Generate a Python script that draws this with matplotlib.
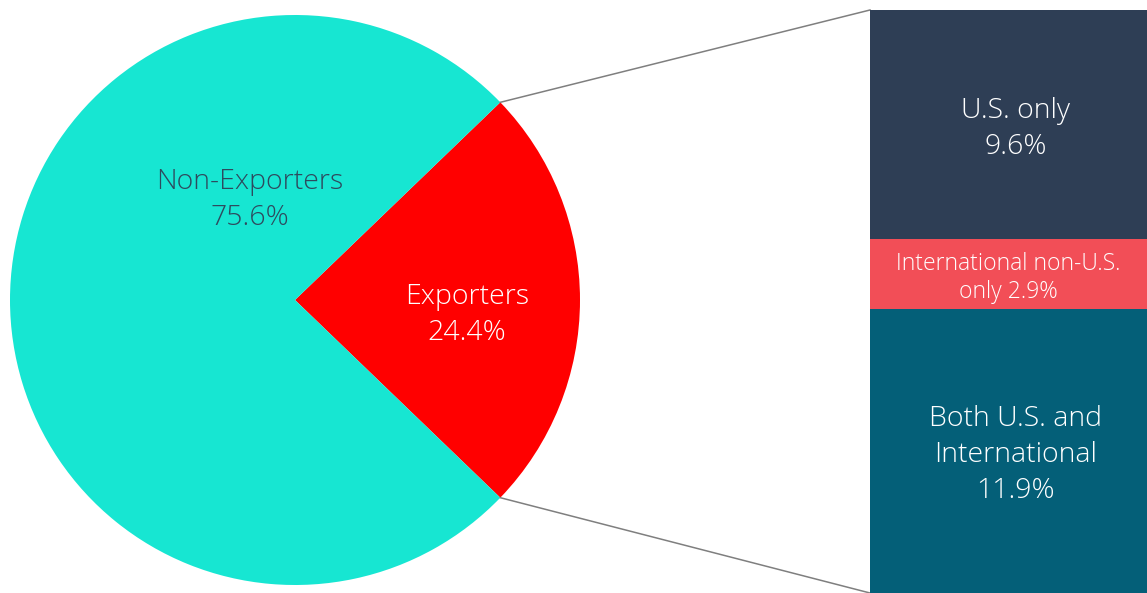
import matplotlib
matplotlib.use("Agg")
import matplotlib.pyplot as plt
from matplotlib.transforms import offset_copy
import numpy as np

# Share of firms by export status
pie_labels = ["Exporters", "Non-Exporters"]
pie_values = [24.4, 75.6]
pie_colors = ["#FF0000", "#17E6D2"]

# Breakdown of exporters, bottom to top
bar_labels = ["Both U.S. and\nInternational\n11.9%", "International non-U.S.\nonly 2.9%", "U.S. only\n9.6%"]
bar_values = [11.9, 2.9, 9.6]
bar_colors = ["#045F78", "#F24E57", "#2E3E55"]

W, H = 1147, 593
fig = plt.figure(figsize=(W / 100, H / 100), dpi=100)
fig.patch.set_facecolor("white")
plt.rcParams["font.family"] = ["Open Sans", "DejaVu Sans"]
FW = "light"
FS = 20.5
LS = 1.38

ax = fig.add_axes([0, 0, 1, 1])
cx, cy, r = 295, H - 300, 285
half = pie_values[0] / 100 * 360 / 2
ax.pie(pie_values, colors=pie_colors, startangle=-half, counterclock=True,
       center=(cx, cy), radius=r, frame=True)
ax.set_xlim(0, W)
ax.set_ylim(0, H)
ax.set_aspect("equal")
ax.axis("off")

ax.text(250, H - 200, "Non-Exporters\n75.6%", ha="center", va="center", fontsize=FS,
        color="#2E4A5E", linespacing=LS, fontweight=FW)
ax.text(467, H - 315, "Exporters\n24.4%", ha="center", va="center", fontsize=FS,
        color="white", linespacing=LS, fontweight=FW)

# Bar of exporters
bx0, bx1 = 870, 1147
by_top = 10
bax = fig.add_axes([bx0 / W, 0, (bx1 - bx0) / W, (H - by_top) / H])
total = sum(bar_values)
shifted = offset_copy(bax.transData, fig=fig, x=0, y=-4, units="dots")
bottom = 0
for lab, v, c in zip(bar_labels, bar_values, bar_colors):
    bax.bar(0, v, bottom=bottom, width=1, color=c, edgecolor="none")
    small = "non-U.S." in lab
    bax.text(0.0 if small else 0.025, bottom + v / 2, lab, ha="center", va="center",
             fontsize=16.5 if small else FS, color="white",
             linespacing=1.25 if small else LS, fontweight=FW, transform=shifted)
    bottom += v
bax.set_xlim(-0.5, 0.5)
bax.set_ylim(0, total)
bax.axis("off")

# Connector lines from wedge edges to bar corners
a1 = np.deg2rad(half)
a2 = np.deg2rad(-half)
ax.plot([cx + r * np.cos(a1), bx0], [cy + r * np.sin(a1), H - by_top], color="#7F7F7F", lw=1.1)
ax.plot([cx + r * np.cos(a2), bx0], [cy + r * np.sin(a2), 0], color="#7F7F7F", lw=1.1)

fig.savefig("out.png", dpi=100, facecolor="white")
